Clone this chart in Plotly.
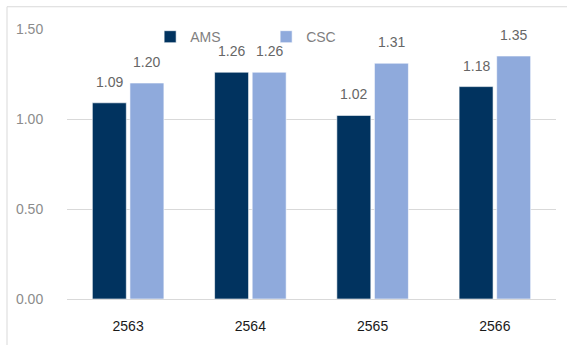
import plotly.graph_objects as go

categories = ["2563", "2564", "2565", "2566"]
ams_values = [1.09, 1.26, 1.02, 1.18]
csc_values = [1.20, 1.26, 1.31, 1.35]
series_names = ["AMS", "CSC"]
series_colors = ["#01335F", "#8FAADC"]

W, H = 567, 345
L, R, T, B = 67, 11, 29, 43
plot_w = W - L - R
plot_h = H - T - B

FONT = "Liberation Sans, Arial, sans-serif"

fig = go.Figure()
for name, vals, col in zip(series_names, [ams_values, csc_values], series_colors):
    fig.add_trace(go.Bar(
        x=categories, y=vals, name=name,
        marker=dict(color=col, line=dict(color="rgba(255,255,255,0.6)", width=1)),
        hoverinfo="skip",
    ))

# data labels above the bars (x given as category index)
offsets = [-18.8, 18.8]
for vals, off in zip([ams_values, csc_values], offsets):
    for i, v in enumerate(vals):
        fig.add_annotation(
            x=i, y=v, xref="x", yref="y", text=f"{v:.2f}",
            showarrow=False, xshift=off, yshift=21, yanchor="middle",
            font=dict(family=FONT, size=14, color="#666666"),
        )

# outer chart border (top and left visible)
fig.add_shape(
    type="rect", xref="paper", yref="paper",
    x0=(7 - L) / plot_w, x1=(W + 5 - L) / plot_w,
    y0=-(B + 5) / plot_h, y1=(H - B - 6.5) / plot_h,
    line=dict(color="#D9D9D9", width=1), fillcolor="rgba(0,0,0,0)", layer="below",
)

fig.update_layout(
    width=W, height=H,
    margin=dict(l=L, r=R, t=T, b=B),
    paper_bgcolor="white", plot_bgcolor="white",
    barmode="group", bargap=0.385, bargroupgap=0.096,
    font=dict(family=FONT, size=14, color="#7F7F7F"),
    showlegend=True,
    legend=dict(
        orientation="h", x=0.17, xanchor="left", y=0.97, yanchor="middle",
        font=dict(family=FONT, size=14, color="#7F7F7F"),
        bgcolor="rgba(0,0,0,0)", entrywidth=71, entrywidthmode="pixels",
        itemclick=False,
    ),
    xaxis=dict(
        type="category", range=[-0.5, 3.5], showgrid=False,
        showline=True, linecolor="#D9D9D9", linewidth=1,
        ticks="outside", ticklen=14, tickcolor="rgba(0,0,0,0)",
        tickfont=dict(family=FONT, size=14, color="#1A1A1A"),
    ),
    yaxis=dict(
        range=[0, 1.5], dtick=0.5, tickformat=".2f",
        showgrid=True, gridcolor="#D9D9D9", gridwidth=1, zeroline=False,
        ticks="outside", ticklen=20, tickcolor="rgba(0,0,0,0)",
        tickfont=dict(family=FONT, size=14, color="#8C8C8C"),
    ),
)

fig.write_html("out.html")
